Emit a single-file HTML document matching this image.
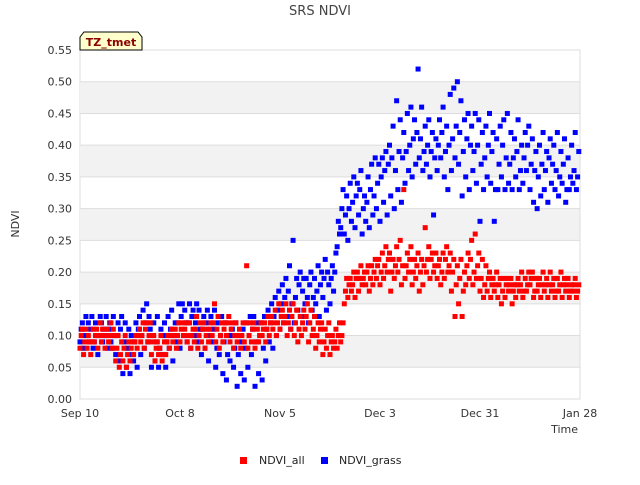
<!DOCTYPE html>
<html><head><meta charset="utf-8"><style>
body{margin:0;background:#fff;font-family:"Liberation Sans","DejaVu Sans",sans-serif}
svg text{font-family:"DejaVu Sans","Liberation Sans",sans-serif}
</style></head><body>
<svg id="c" width="640" height="480" xmlns="http://www.w3.org/2000/svg">
<text x="320" y="15" text-anchor="middle" font-size="13" fill="#444">SRS NDVI</text>
<g id="grid"></g>
<g id="marks"></g>
<g id="axes"></g>
<g>
<path d="M80,50 L80,37 L84,32 L138,32 L142,37 L142,50 Z" fill="#ffffcc" stroke="#000" stroke-width="1"/>
<text x="111" y="46" text-anchor="middle" font-size="11" font-weight="bold" fill="#8b0000">TZ_tmet</text>
</g>
<text x="19" y="224" transform="rotate(-90 19 224)" text-anchor="middle" font-size="11" fill="#333">NDVI</text>
<text x="578" y="433" text-anchor="end" font-size="11" fill="#333">Time</text>
<g><rect x="240" y="457" width="7" height="7" fill="#f00"/><text x="259" y="464" font-size="11" fill="#222">NDVI_all</text></g>
<g><rect x="321" y="457" width="7" height="7" fill="#00f"/><text x="339" y="464" font-size="11" fill="#222">NDVI_grass</text></g>
</svg>
<script>
const xTickDays=[0,28,56,84,112,140];
const xTickLabels=["Sep 10","Oct 8","Nov 5","Dec 3","Dec 31","Jan 28"];
const yTicks=[0,0.05,0.1,0.15,0.2,0.25,0.3,0.35,0.4,0.45,0.5,0.55];
const grass=[[.09,.11,.12],[.08,.10,.13],[.10,.12,.09],[.11,.13,.08],[.09,.12,.10],[.07,.10,.13],[.12,.09,.11],[.10,.13,.08],[.11,.12,.09],[.08,.13,.10],
[.07,.10,.12],[.06,.11,.13],[.04,.09,.12],[.05,.08,.11],[.04,.10,.07],[.06,.09,.12],[.05,.11,.13],[.07,.10,.14],[.08,.12,.15],[.09,.13,.11],
[.05,.10,.12],[.06,.09,.13],[.05,.08,.11],[.07,.10,.12],[.05,.09,.13],[.08,.11,.14],[.06,.10,.12],[.09,.12,.15],[.08,.13,.15],[.10,.14,.12],
[.09,.12,.15],[.08,.13,.14],[.10,.12,.15],[.09,.14,.11],[.07,.11,.13],[.08,.12,.14],[.06,.10,.13],[.09,.11,.14],[.05,.08,.12],[.07,.10,.13],
[.04,.09,.12],[.03,.07,.10],[.06,.10,.11],[.05,.08,.12],[.02,.07,.10],[.04,.09,.11],[.03,.08,.12],[.05,.10,.13],[.07,.11,.13],[.02,.09,.12],
[.04,.10,.12],[.03,.08,.13],[.06,.11,.14],[.09,.12,.15],[.08,.13,.16],[.10,.14,.17],[.11,.15,.18],[.12,.16,.19],[.13,.17,.21],[.11,.15,.25],
[.12,.16,.19],[.14,.18,.20],[.13,.17,.19],[.15,.19,.16],[.12,.18,.20],[.14,.16,.19],[.15,.17,.21],[.13,.18,.20],[.16,.19,.22],[.14,.20,.18],
[.15,.19,.21],[.17,.20,.23],[.24,.28,.26],[.27,.30,.33],[.26,.29,.32],[.25,.30,.34],[.28,.31,.35],[.27,.32,.34],[.29,.33,.36],[.26,.30,.32],
[.28,.31,.35],[.27,.33,.37],[.29,.32,.38],[.30,.34,.37],[.28,.35,.38],[.31,.36,.39],[.29,.37,.40],[.32,.38,.43],[.30,.36,.47],[.33,.39,.44],
[.31,.38,.42],[.34,.39,.45],[.36,.40,.46],[.35,.41,.44],[.37,.42,.52],[.38,.41,.46],[.36,.39,.43],[.37,.40,.44],[.35,.39,.42],[.29,.38,.41],
[.36,.40,.44],[.38,.42,.46],[.35,.39,.43],[.33,.40,.48],[.36,.41,.49],[.38,.43,.50],[.37,.42,.47],[.32,.39,.44],[.35,.41,.45],[.33,.40,.43],
[.36,.39,.45],[.34,.40,.44],[.28,.37,.42],[.33,.38,.43],[.35,.40,.45],[.34,.39,.42],[.28,.33,.41],[.33,.37,.43],[.35,.40,.44],[.33,.38,.45],
[.34,.37,.42],[.33,.38,.41],[.35,.39,.44],[.33,.36,.40],[.34,.38,.42],[.36,.40,.43],[.33,.37,.41],[.31,.36,.39],[.30,.35,.40],[.32,.37,.42],
[.33,.36,.39],[.31,.38,.41],[.34,.37,.40],[.33,.36,.42],[.32,.35,.39],[.34,.37,.41],[.31,.33,.38],[.33,.35,.40],[.34,.36,.42],[.33,.35,.39]];
const all=[[.08,.10,.11],[.07,.09,.11],[.08,.10,.09],[.07,.09,.11],[.09,.10,.11],[.08,.10,.12],[.09,.11,.10],[.08,.10,.11],[.09,.10,.12],[.08,.11,.10],
[.06,.08,.10],[.05,.07,.09],[.06,.08,.10],[.05,.07,.09],[.06,.08,.09],[.07,.09,.10],[.08,.10,.11],[.09,.10,.12],[.08,.11,.12],[.09,.10,.12],
[.07,.09,.10],[.06,.08,.09],[.07,.08,.10],[.06,.07,.09],[.07,.09,.10],[.08,.10,.11],[.09,.10,.11],[.08,.10,.12],[.09,.11,.12],[.10,.11,.12],
[.09,.10,.12],[.08,.10,.11],[.09,.11,.13],[.08,.10,.12],[.09,.11,.12],[.08,.10,.11],[.09,.11,.12],[.10,.12,.15],[.09,.11,.13],[.08,.10,.12],
[.09,.11,.12],[.10,.12,.13],[.09,.11,.12],[.08,.10,.12],[.09,.10,.11],[.08,.10,.12],[.09,.12,.21],[.08,.10,.12],[.09,.11,.12],[.08,.09,.11],
[.09,.10,.12],[.10,.11,.12],[.09,.11,.13],[.10,.12,.13],[.11,.12,.14],[.10,.12,.15],[.11,.13,.14],[.12,.13,.15],[.10,.12,.14],[.11,.13,.15],
[.10,.12,.14],[.09,.11,.13],[.10,.12,.14],[.11,.13,.15],[.09,.12,.14],[.10,.11,.13],[.08,.10,.12],[.09,.11,.12],[.07,.09,.11],[.08,.10,.12],
[.07,.09,.10],[.08,.09,.11],[.08,.10,.12],[.09,.10,.12],[.15,.17,.19],[.16,.18,.19],[.17,.18,.20],[.16,.19,.20],[.17,.19,.21],[.18,.19,.20],
[.18,.20,.21],[.17,.19,.21],[.18,.20,.22],[.19,.21,.22],[.18,.20,.23],[.19,.21,.24],[.20,.22,.23],[.17,.20,.22],[.19,.21,.24],[.20,.22,.25],
[.18,.21,.33],[.19,.21,.23],[.20,.22,.24],[.18,.20,.22],[.19,.21,.23],[.17,.20,.22],[.18,.21,.27],[.20,.22,.24],[.19,.22,.23],[.20,.21,.23],
[.19,.21,.22],[.18,.20,.23],[.19,.22,.24],[.20,.21,.23],[.17,.20,.22],[.13,.18,.21],[.15,.19,.22],[.13,.17,.20],[.18,.21,.23],[.19,.22,.25],
[.18,.20,.26],[.19,.21,.23],[.17,.19,.22],[.16,.18,.21],[.17,.19,.20],[.16,.18,.19],[.17,.18,.20],[.16,.18,.19],[.15,.17,.19],[.16,.18,.19],
[.17,.18,.19],[.15,.17,.18],[.16,.18,.19],[.17,.18,.20],[.16,.17,.19],[.17,.18,.20],[.18,.19,.20],[.16,.17,.19],[.17,.18,.19],[.16,.18,.20],
[.17,.18,.19],[.16,.18,.20],[.17,.18,.19],[.16,.17,.19],[.17,.18,.20],[.16,.18,.19],[.17,.18,.19],[.16,.17,.18],[.17,.18,.19],[.16,.17,.18]];
const NS="http://www.w3.org/2000/svg";
const X0=80,X1=580,Y0=399,Y1=50,DMAX=140,VMAX=0.55;
const xs=d=>X0+(X1-X0)*d/DMAX;
const ys=v=>Y0-(Y0-Y1)*v/VMAX;
function mk(t,a,p){const e=document.createElementNS(NS,t);for(const k in a)e.setAttribute(k,a[k]);p.appendChild(e);return e;}
const grid=document.getElementById('grid'),marks=document.getElementById('marks'),axes=document.getElementById('axes');
const bg=mk('rect',{x:X0,y:Y1,width:X1-X0,height:Y0-Y1,fill:'#fff',stroke:'#ddd'},grid);


for(let i=0;i<yTicks.length-1;i++){
  if(i%2===1){const b=mk('rect',{x:X0,y:ys(yTicks[i+1]),width:X1-X0,height:ys(yTicks[i])-ys(yTicks[i+1]),fill:'#f2f2f2'},grid);
  
  }
}
yTicks.forEach(v=>{
  const l=mk('line',{x1:X0,x2:X1,y1:ys(v),y2:ys(v),stroke:'#ddd'},grid);
  
  
  const t=mk('text',{x:X0-8,y:ys(v)+4,'text-anchor':'end','font-size':11,fill:'#333'},axes);
  t.textContent=v.toFixed(2);
  
  
});
mk('line',{x1:X1,x2:X1,y1:Y1,y2:Y0,stroke:'#ddd'},grid);
xTickDays.forEach((d,i)=>{
  const t=mk('text',{x:xs(d),y:Y0+18,'text-anchor':'middle','font-size':11,fill:'#333'},axes);
  t.textContent=xTickLabels[i];
  
  
});
function draw(series,color,name){
  series.forEach((vals,d)=>vals.forEach((v,j)=>{
    const r=mk('rect',{x:xs(d+j*0.33)-2.5,y:ys(v)-2.5,width:5,height:5,fill:color},marks);
    
    
  }));
}
draw(grass,'#0000ff','ndvi-grass-point');
draw(all,'#ff0000','ndvi-all-point');
</script>
</body></html>
